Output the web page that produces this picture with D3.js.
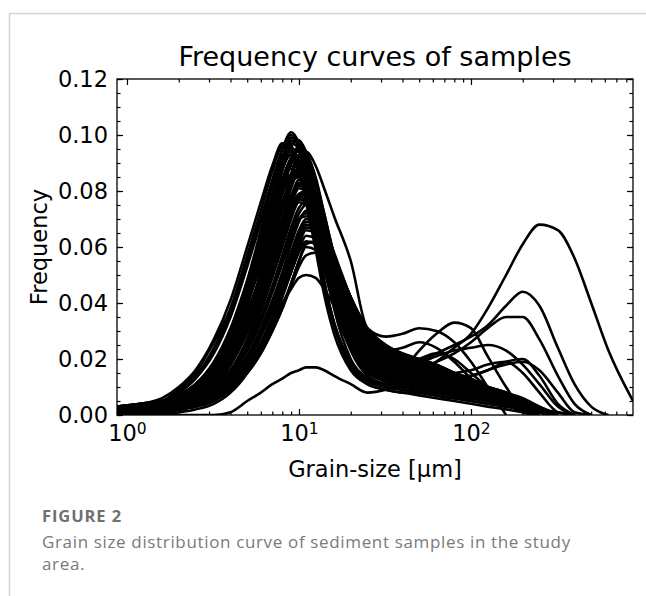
<!DOCTYPE html>
<html>
<head>
<meta charset="utf-8">
<script src="https://cdn.jsdelivr.net/npm/d3@7"></script>
<style>
  body { margin: 0; background: #fff; }
  svg { display: block; }
  .tick text { font-family: "DejaVu Sans", sans-serif; font-size: 22.5px; fill: #000; }
  .tick line { stroke: #000; stroke-width: 1.2; }
</style>
</head>
<body>
<svg id="chart" width="646" height="596"></svg>
<script>
// grain-size bins (µm), shared by every sample
const grainSize = [0.875, 1.2, 1.6, 2, 2.5, 3.2, 4, 5, 6, 7, 8, 9, 10, 11, 12.5, 14, 16, 20, 25, 32,
                   40, 50, 63, 80, 100, 125, 160, 200, 250, 320, 400, 500, 630, 875]

// frequencies in thousandths, one row per sample, row ends where the curve reaches 0
const highPeak = [
  [3,4,5,9,15,26,38,56,70,84,95,101,97,88,72,55,38,20,13,10,9,8,7,6,5,4,3,2,1,0],
  [2,3,4,7,11,19,31,48,64,79,92,99,97,89,74,57,41,24,15,12,10,9,8,7,6,5,4,3,1,0],
  [1,2,3,5,9,15,26,42,59,75,89,98,98,92,79,63,46,27,17,13,11,10,9,8,7,6,5,3,2,0],
  [3,4,6,10,16,27,41,60,76,89,97,96,90,80,64,48,33,18,12,10,9,8,7,6,6,5,4,3,2,1,0],
  [0,1,2,4,7,12,21,35,51,67,81,91,96,94,84,70,53,32,20,15,12,10,9,8,7,6,5,4,2,0],
  [2,3,4,6,10,17,28,45,61,76,88,95,94,87,73,57,42,25,16,12,11,10,9,8,7,6,4,2,0],
  [1,2,3,5,8,14,24,39,55,70,83,92,94,90,78,63,47,29,18,14,12,11,10,9,8,7,6,4,2,0],
  [2,3,5,8,13,23,36,54,70,83,92,93,87,77,61,46,32,19,13,11,10,9,8,8,7,6,5,4,2,0],
  [0,1,2,3,6,10,18,31,46,61,75,86,92,92,84,72,57,36,22,16,13,11,10,9,8,7,5,3,1,0],
  [1,2,3,6,9,16,27,43,58,72,84,91,90,84,71,57,43,27,18,14,12,11,10,9,8,6,5,3,1,0],
  [2,3,4,6,10,17,28,44,59,73,84,90,88,81,68,54,40,25,17,14,13,12,11,10,9,8,6,4,2,0],
  [1,2,3,5,9,16,27,44,61,77,91,99,98,92,79,64,48,30,19,15,13,12,11,10,9,7,6,4,2,0],
  [1,2,3,5,8,12,19,31,45,60,74,86,93,94,89,81,71,55,31,28,29,31,30,26,19,10,0],
  [2,3,4,6,10,18,30,48,66,82,95,100,95,84,66,48,32,17,11,9,8,7,6,5,4,3,2,1,0],
  [1,2,3,5,9,16,28,45,62,78,91,97,95,87,72,56,40,23,14,11,10,9,8,7,6,5,4,3,1,0],
  [3,4,5,9,14,24,38,57,73,87,96,95,88,76,59,43,29,16,11,9,8,8,7,6,5,4,3,2,0],
  [1,2,3,4,7,12,21,35,50,65,79,90,95,93,85,72,57,37,23,17,14,12,11,10,9,8,6,4,2,0],
  [2,3,4,7,11,18,30,47,63,77,88,93,91,84,70,55,40,24,16,13,12,11,10,9,8,7,5,3,1,0],
  [1,2,3,5,8,14,24,40,57,73,87,96,98,94,83,69,54,34,21,16,13,11,10,9,8,7,5,3,1,0],
  [3,4,5,8,13,22,35,53,69,83,93,94,89,79,63,47,33,19,13,11,10,9,8,7,6,5,4,2,1,0]
]

const midPeak = [
  [1,2,3,5,8,13,22,36,50,63,75,84,88,87,79,68,55,37,24,18,15,13,12,11,10,8,6,4,2,0],
  [2,3,4,6,9,15,24,37,50,62,73,82,86,85,77,66,53,35,23,17,14,12,11,10,9,7,6,4,2,0],
  [0,1,2,3,6,10,18,30,43,56,68,78,84,83,76,66,54,37,25,19,16,14,13,12,11,9,7,5,3,0],
  [1,2,3,5,8,13,21,33,45,57,68,77,82,81,74,64,52,35,24,19,17,15,13,12,10,9,7,5,2,0],
  [0,1,2,3,5,9,16,26,38,50,61,71,78,80,76,68,57,40,27,20,17,15,14,13,12,10,8,6,3,0],
  [1,2,3,4,7,11,19,30,41,52,63,72,78,77,71,62,51,35,25,20,18,16,15,14,12,10,8,5,2,0],
  [0,1,2,3,5,9,15,25,35,46,57,67,74,76,73,66,56,41,29,22,19,17,16,14,12,10,8,5,2,0],
  [2,3,4,6,10,16,26,40,53,65,76,83,85,81,71,59,46,30,20,16,14,13,12,11,10,8,6,4,2,0],
  [0,1,2,4,6,11,19,32,47,61,74,85,91,90,83,71,57,38,25,19,16,14,12,11,10,8,6,4,2,0],
  [1,2,4,6,10,17,28,44,58,71,82,89,88,82,70,56,43,28,19,15,13,12,11,10,9,7,5,3,1,0],
  [0,1,2,3,6,10,18,30,44,57,70,81,87,86,79,68,55,37,25,19,16,14,13,12,11,9,7,5,2,0],
  [2,3,4,6,10,16,27,42,55,68,79,86,85,79,67,54,41,26,18,15,14,13,12,11,10,8,6,4,2,0],
  [1,2,3,4,7,12,20,32,45,57,69,78,83,82,76,66,54,37,26,20,17,15,14,13,11,9,7,5,2,0],
  [1,2,3,5,8,13,21,33,45,56,66,75,81,80,74,65,53,37,26,21,18,16,14,13,11,9,7,4,2,0],
  [2,3,4,7,11,18,29,46,60,73,84,88,86,79,66,52,39,24,17,14,13,12,11,10,9,7,5,3,1,0]
]

const lowPeak = [
  [0,1,2,3,4,7,12,21,31,41,51,61,69,73,72,66,57,42,30,23,20,18,16,14,12,10,7,4,1,0],
  [1,1,2,3,5,8,13,21,30,40,49,58,66,70,69,64,56,42,30,24,21,19,17,15,13,10,7,4,1,0],
  [0,1,1,2,4,7,12,19,28,37,46,55,63,67,66,61,53,40,29,23,20,18,16,14,12,9,6,3,0],
  [0,0,1,2,3,6,10,17,25,33,42,51,59,64,63,58,51,39,28,22,19,17,15,13,11,8,5,2,0],
  [0,0,1,2,3,5,9,15,22,30,38,47,55,61,62,58,51,40,30,24,21,19,17,15,12,9,5,2,0],
  [0,1,1,2,4,6,10,16,23,31,39,47,55,60,59,55,48,37,27,21,18,16,14,12,10,7,4,1,0],
  [0,1,2,3,5,9,15,25,37,49,60,70,77,79,76,68,58,42,29,22,19,17,15,14,12,10,7,5,2,0],
  [1,2,3,4,7,11,18,29,40,51,62,71,77,76,71,62,52,37,27,22,19,17,15,13,11,9,6,4,1,0],
  [0,1,2,3,5,8,14,23,33,44,55,65,72,75,73,66,57,42,30,24,21,19,17,15,13,10,7,4,1,0],
  [1,1,2,3,5,9,15,24,34,44,54,63,70,72,70,64,55,41,30,24,21,19,17,15,12,9,6,3,1,0],
  [0,1,1,2,4,7,12,20,29,39,48,57,65,69,68,63,55,42,31,25,22,20,18,15,12,9,6,3,0],
  [0,0,1,2,3,6,11,18,26,35,44,53,61,66,65,60,53,41,31,25,22,20,18,15,12,9,5,2,0]
]

const coarseMode = [
  [0,0,0,1,2,4,8,15,24,33,40,45,49,50,49,45,39,28,20,17,17,19,22,25,28,32,39,44,39,24,11,3,0],
  [0,0,0,0,0,0,1,5,8,11,13,15,16,17,17,16,14,11,8,9,11,14,19,24,29,38,50,61,68,66,56,40,23,5],
  [0,1,1,2,3,6,10,17,25,34,43,51,58,62,61,56,48,35,22,18,17,17,19,22,26,31,35,35,27,14,4,0],
  [0,0,1,2,3,5,9,15,22,30,38,46,53,57,58,54,47,33,19,13,16,23,29,33,31,21,10,2,0],
  [0,1,1,2,4,7,12,20,29,39,49,58,65,68,66,60,51,36,25,20,19,19,21,23,24,25,23,18,11,3,0],
  [1,2,3,4,7,11,19,30,42,54,65,74,79,80,75,66,54,37,24,17,14,13,13,13,14,16,19,20,14,4,0],
  [1,2,3,5,8,13,22,35,49,63,75,83,85,81,71,58,45,31,24,23,24,26,24,19,13,8,4,1,0],
  [0,1,2,3,5,9,16,27,39,51,62,71,76,75,69,59,48,33,22,18,18,20,22,20,15,10,5,2,0],
  [1,2,3,5,8,13,22,34,47,59,70,78,82,80,73,62,50,34,22,16,13,12,12,13,14,16,18,19,16,8,1,0],
  [0,1,2,3,5,8,14,23,34,45,55,64,70,71,68,61,51,36,24,18,15,14,14,15,16,18,19,15,8,1,0]
]

const yMajor = [0, 0.02, 0.04, 0.06, 0.08, 0.10, 0.12]
const xMajor = [1, 10, 100]

const margin = {top: 79, right: 13, bottom: 181, left: 117},
    width = 646 - margin.left - margin.right,
    height = 596 - margin.top - margin.bottom

const x = d3.scaleLog()
    .domain([0.875, 875])
    .range([0, width])

const y = d3.scaleLinear()
    .domain([0, 0.12])
    .range([height, 0])

const xMinor = []
for (let e = 0; e < 3; e++) for (let m = 2; m < 10; m++) {
    const v = m * Math.pow(10, e)
    if (v <= 875) xMinor.push(v)
}
const yMinor = d3.range(0, 0.1201, 0.005)

const svg = d3.select("#chart")

// page frame of the figure panel
svg.append("path")
    .attr("d", "M9.5,596V13.5H646")
    .attr("fill", "none")
    .attr("stroke", "#d4d4d4")
    .attr("stroke-width", 1.5)

const g = svg.append("g")
    .attr("transform", "translate(" + margin.left + "," + margin.top + ")")

g.append("clipPath").attr("id", "clip")
  .append("rect")
    .attr("width", width)
    .attr("height", height)

const samples = [].concat(highPeak, midPeak, lowPeak, coarseMode)

const line = d3.line()
    .x(function(d, i) { return x(grainSize[i]) })
    .y(function(d) { return y(d / 1000) })
    .curve(d3.curveMonotoneX)

g.append("g")
    .attr("clip-path", "url(#clip)")
  .selectAll("path")
    .data(samples)
  .enter().append("path")
    .attr("d", line)
    .attr("fill", "none")
    .attr("stroke", "#000")
    .attr("stroke-width", 2.6)
    .attr("stroke-linejoin", "round")

// ticks point inwards on all four sides
function ticks(axis, vals, size, labels) {
    axis.tickValues(vals).tickSizeInner(-size).tickSizeOuter(0)
    if (!labels) axis.tickFormat("")
    return axis
}

g.append("g")
    .attr("transform", "translate(0," + height + ")")
    .call(ticks(d3.axisBottom(x), xMinor, 3.5))
g.append("g")
    .call(ticks(d3.axisTop(x), xMinor, 3.5))
g.append("g")
    .call(ticks(d3.axisTop(x), xMajor, 6))

const xAxis = g.append("g")
    .attr("class", "x axis")
    .attr("transform", "translate(0," + height + ")")
    .call(ticks(d3.axisBottom(x), xMajor, 6, true).tickPadding(10))

xAxis.selectAll(".tick text")
    .text(null)
    .each(function(d) {
        const t = d3.select(this)
        t.append("tspan").text("10")
        t.append("tspan")
            .attr("dy", "-0.45em")
            .style("font-size", "15.5px")
            .text(Math.round(Math.log10(d)))
    })

g.append("g")
    .call(ticks(d3.axisLeft(y), yMinor, 3.5))
g.append("g")
    .attr("transform", "translate(" + width + ",0)")
    .call(ticks(d3.axisRight(y), yMinor, 3.5))
g.append("g")
    .attr("transform", "translate(" + width + ",0)")
    .call(ticks(d3.axisRight(y), yMajor, 6))
g.append("g")
    .attr("class", "y axis")
    .call(ticks(d3.axisLeft(y), yMajor, 6, true).tickPadding(9).tickFormat(d3.format(".2f")))

g.selectAll(".domain").remove()

g.append("rect")
    .attr("width", width)
    .attr("height", height)
    .attr("fill", "none")
    .attr("stroke", "#000")
    .attr("stroke-width", 1.3)

g.append("text")
    .attr("x", width / 2)
    .attr("y", -13)
    .attr("text-anchor", "middle")
    .style("font-family", "DejaVu Sans, sans-serif")
    .style("font-size", "27px")
    .text("Frequency curves of samples")

g.append("text")
    .attr("x", width / 2)
    .attr("y", height + 62)
    .attr("text-anchor", "middle")
    .style("font-family", "DejaVu Sans, sans-serif")
    .style("font-size", "22.5px")
    .text("Grain-size [μm]")

g.append("text")
    .attr("transform", "translate(-70," + (height / 2) + ") rotate(-90)")
    .attr("text-anchor", "middle")
    .style("font-family", "DejaVu Sans, sans-serif")
    .style("font-size", "22.5px")
    .text("Frequency")

// caption
svg.append("text")
    .attr("x", 42)
    .attr("y", 522)
    .style("font-family", "Open Sans, sans-serif")
    .style("font-size", "16.5px")
    .style("font-weight", "bold")
    .style("letter-spacing", "0.9px")
    .style("fill", "#707070")
    .text("FIGURE 2")

const caption = svg.append("text")
    .style("font-family", "Open Sans, sans-serif")
    .style("font-size", "17px")
    .style("letter-spacing", "0.65px")
    .style("fill", "#7a7a7a")
caption.append("tspan").attr("x", 42).attr("y", 548)
    .text("Grain size distribution curve of sediment samples in the study")
caption.append("tspan").attr("x", 42).attr("y", 570)
    .text("area.")
</script>
</body>
</html>
